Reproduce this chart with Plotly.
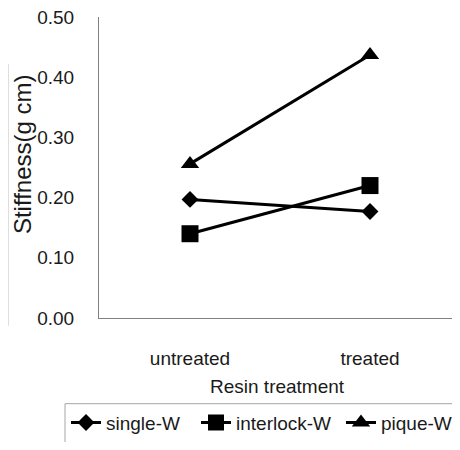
import plotly.graph_objects as go

categories = ["untreated", "treated"]
series_names = ["single-W", "interlock-W", "pique-W"]
single_w = [0.197, 0.177]
interlock_w = [0.140, 0.220]
pique_w = [0.256, 0.437]
y_ticks = [0.0, 0.1, 0.2, 0.3, 0.4, 0.5]
x_title = "Resin treatment"
y_title = "Stiffness(g cm)"

FONT = "Liberation Sans, Arial, sans-serif"
OFF = 8  # default page body margin
VS = 1 / 0.982  # vertical compensation for the capture
W, H = 460 - 2 * OFF, 450 - 2 * OFF
PLOT_L, PLOT_R = 99, 452
PLOT_T, PLOT_B = round(17 * VS), round(318 * VS)
ML, MR, MT = PLOT_L - OFF, (W + OFF) - PLOT_R, PLOT_T - OFF
MB = H - (PLOT_B - OFF)
PW, PH = W - ML - MR, H - MT - MB

X_UNIT = 180.0
x_range = [-(190 - PLOT_L) / X_UNIT, 1 + (PLOT_R - 370) / X_UNIT]


def px_x(x):
    return (x - OFF - ML) / PW


def px_y(y):
    return (H - MB - (y * VS - OFF)) / PH


symbols = ["diamond", "square", "triangle-up"]
sizes = [13, 17, 16]
legend_widths = [85, 100, 66]
data = [single_w, interlock_w, pique_w]

fig = go.Figure()
for name, vals, sym, sz, lw in zip(series_names, data, symbols, sizes, legend_widths):
    fig.add_trace(go.Scatter(
        x=categories, y=vals, name=name, mode="lines+markers",
        line=dict(color="black", width=3),
        marker=dict(symbol=sym, size=sz, color="black", line=dict(width=0)),
        legendwidth=lw,
    ))

fig.update_layout(
    width=W, height=H,
    margin=dict(l=ML, r=MR, t=MT, b=MB, pad=0),
    paper_bgcolor="white", plot_bgcolor="white",
    font=dict(family=FONT, size=19, color="#1a1a1a"),
    showlegend=True,
    legend=dict(
        orientation="h", x=px_x(68), y=px_y(404), xanchor="left", yanchor="top",
        font=dict(size=19, color="#1a1a1a"), borderwidth=0, bgcolor="rgba(0,0,0,0)",
        itemwidth=30, tracegroupgap=0,
    ),
    xaxis=dict(
        type="category", range=x_range, showline=True, linecolor="#808080",
        linewidth=1, showgrid=False, zeroline=False, ticks="", ticklabelstandoff=23,
        tickfont=dict(size=19), ticklabeloverflow="allow",
    ),
    yaxis=dict(
        range=[0, 0.5], tickvals=y_ticks, tickformat=".2f", showline=True,
        linecolor="#808080", linewidth=1, showgrid=False, zeroline=False,
        ticks="", ticklabelstandoff=20, tickfont=dict(size=19),
        ticklabeloverflow="allow",
    ),
    annotations=[
        dict(text=x_title, xref="paper", yref="paper", x=px_x(277), y=px_y(387),
             xanchor="center", yanchor="middle", showarrow=False, font=dict(size=19)),
        dict(text=y_title, xref="paper", yref="paper", x=px_x(22), y=px_y(154),
             xanchor="center", yanchor="middle", showarrow=False, textangle=-90,
             font=dict(size=24)),
    ],
    shapes=[
        dict(type="rect", xref="paper", yref="paper", x0=px_x(0), x1=px_x(9),
             y0=px_y(64), y1=px_y(326), fillcolor="#dedede", line=dict(width=0),
             layer="below"),
        dict(type="rect", xref="paper", yref="paper", x0=px_x(65), x1=px_x(475),
             y0=px_y(404), y1=px_y(470), fillcolor="rgba(0,0,0,0)",
             line=dict(color="#a6a6a6", width=1)),
    ],
)

fig.write_html("out.html", config={"displayModeBar": False})
